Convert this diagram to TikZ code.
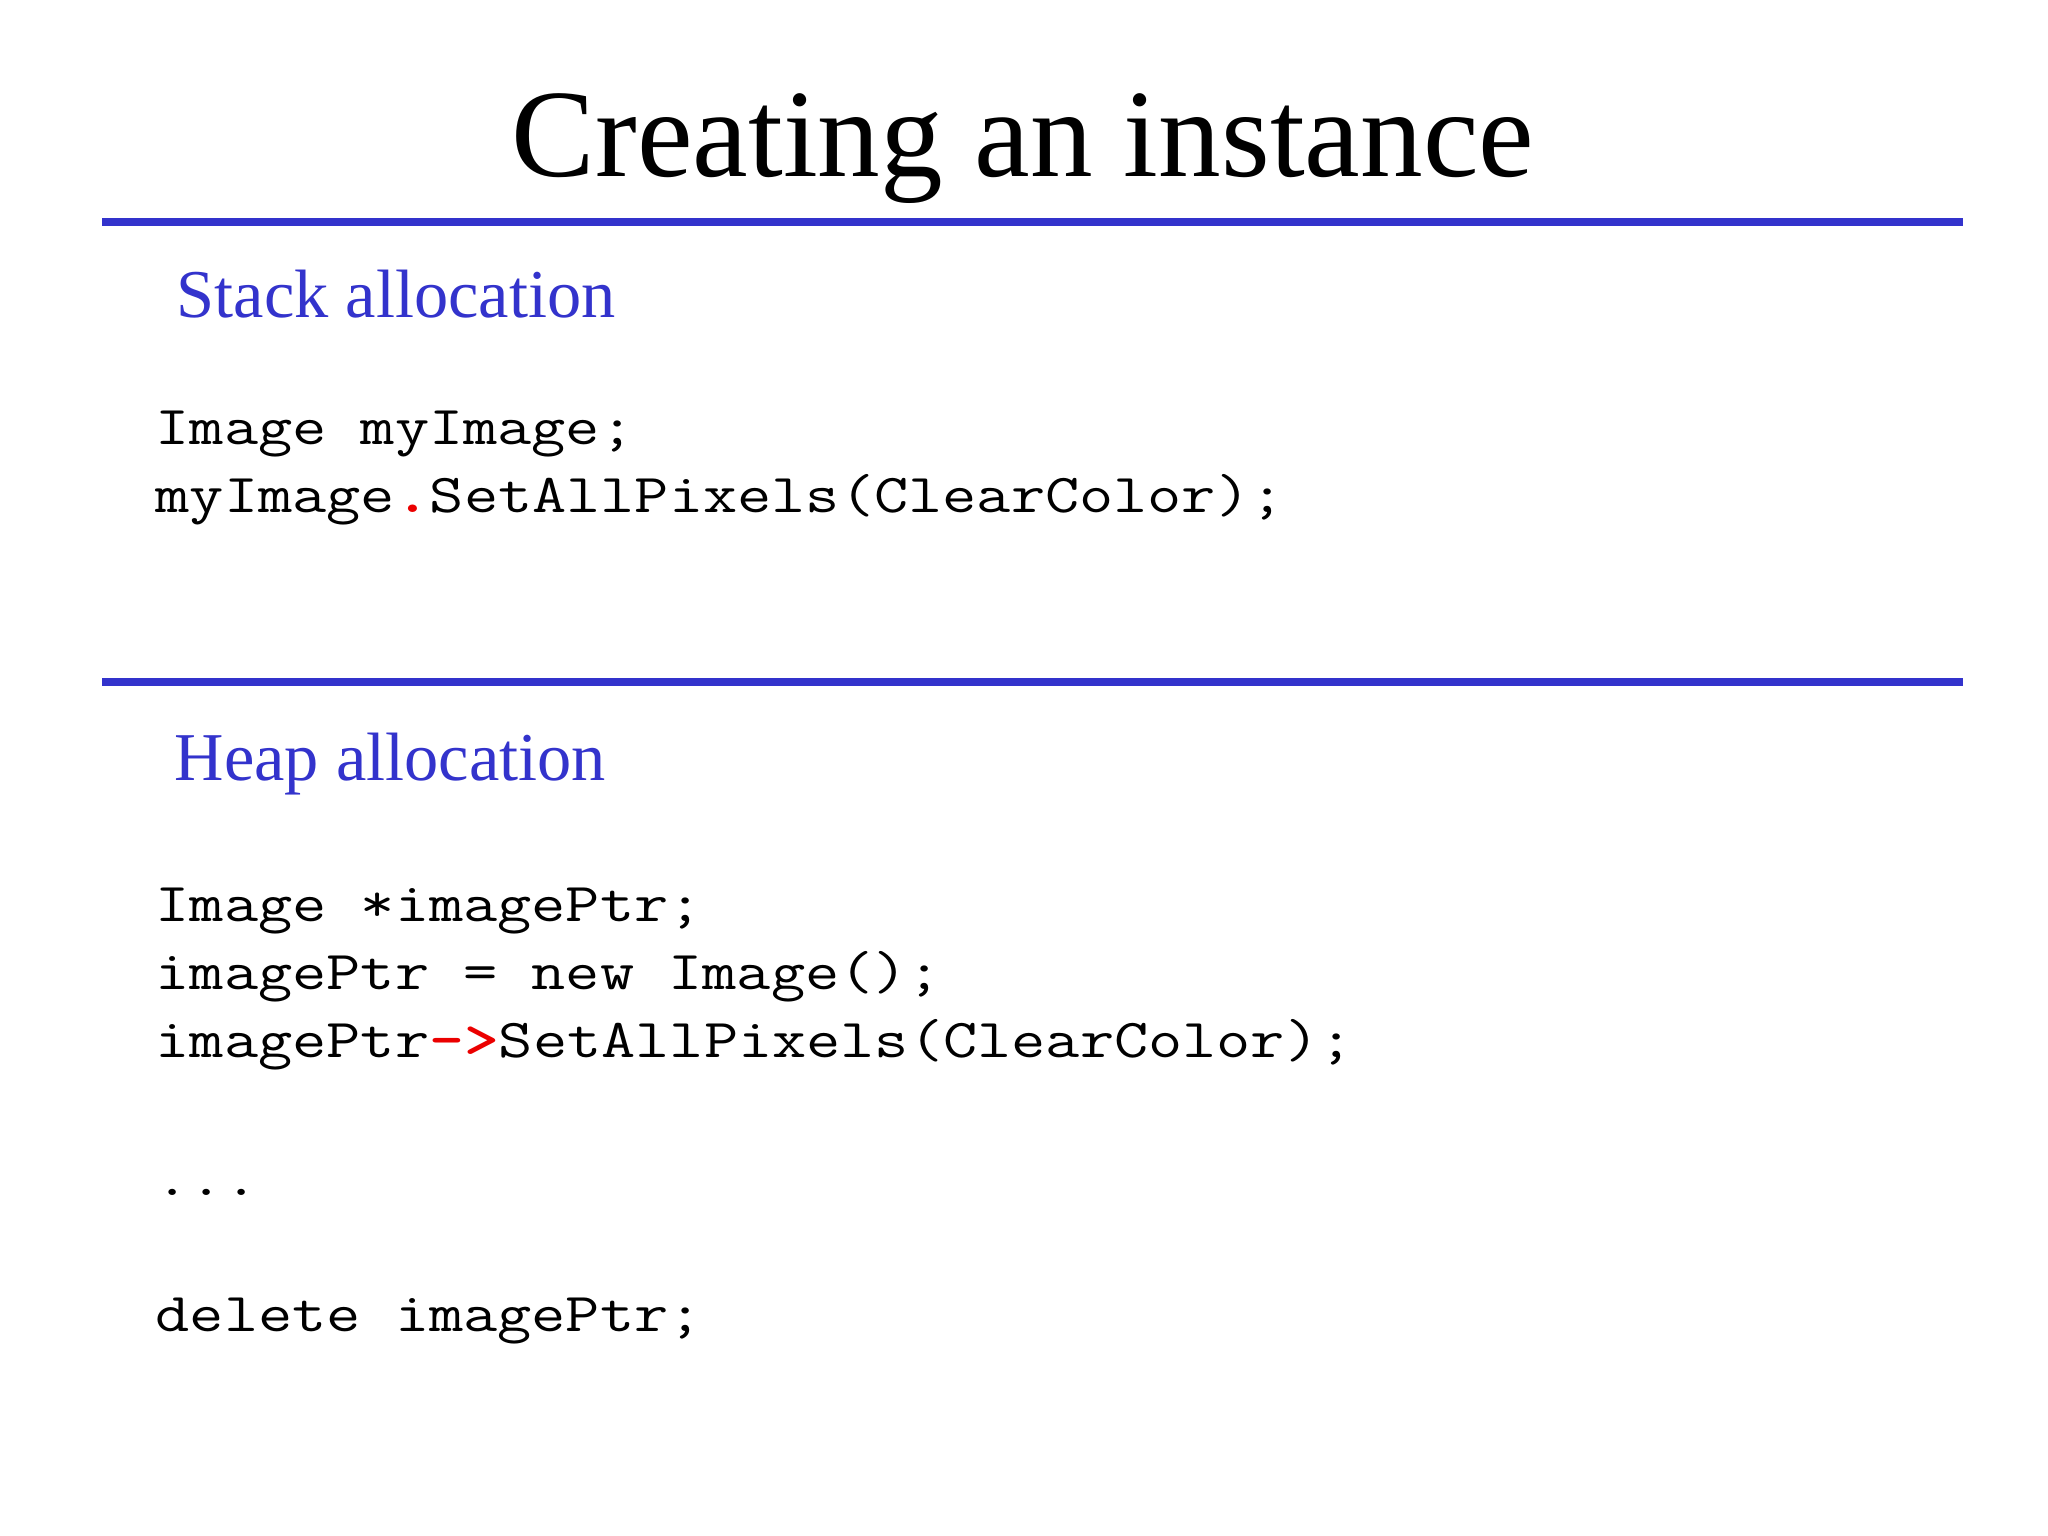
\documentclass[tikz,border=0pt]{standalone}
\usepackage{fontspec}
\usepackage{graphicx}
\setmainfont{Liberation Serif}
\definecolor{slideblue}{RGB}{51,51,204}
\definecolor{codered}{RGB}{235,0,0}
\tikzset{
  titletext/.style={anchor=base, inner sep=0pt, font=\fontsize{35.6}{42}\selectfont},
  headtext/.style={anchor=base west, inner sep=0pt, text=slideblue, font=\fontsize{19.45}{24}\selectfont},
  codetext/.style={anchor=base west, inner sep=0pt, font=\ttfamily\fontsize{15.6}{20}\selectfont},
  rule/.style={draw=slideblue, line width=0.076cm}
}
\newcommand{\redtok}[1]{\textcolor{codered}{\bfseries #1}}
\newcommand{\codeline}[1]{\scalebox{1.21}[1]{#1}}
\begin{document}
\begin{tikzpicture}[x=0.01cm,y=-0.01cm]
\useasboundingbox (0,0) rectangle (2048,1536);
\fill[white] (0,0) rectangle (2048,1536);

\node[titletext] (title) at (1023,176) {Creating an instance};

\coordinate (r1a) at (102,222);
\coordinate (r1b) at (1963,222);
\draw[rule] (r1a) -- (r1b);

\node[headtext] (stack) at (176,317) {Stack allocation};
\node[codetext] (s1) at (155,444) {\codeline{Image myImage;}};
\node[codetext] (s2) at (155,512) {\codeline{myImage\redtok{.}SetAllPixels(ClearColor);}};

\coordinate (r2a) at (102,682);
\coordinate (r2b) at (1963,682);
\draw[rule] (r2a) -- (r2b);

\node[headtext] (heap) at (174,780) {Heap allocation};
\node[codetext] (h1) at (155,921) {\codeline{Image *imagePtr;}};
\node[codetext] (h2) at (155,989) {\codeline{imagePtr = new Image();}};
\node[codetext] (h3) at (155,1057) {\codeline{imagePtr\redtok{->}SetAllPixels(ClearColor);}};
\node[codetext] (h4) at (155,1195) {\codeline{...}};
\node[codetext] (h5) at (155,1331) {\codeline{delete imagePtr;}};
\end{tikzpicture}
\end{document}
